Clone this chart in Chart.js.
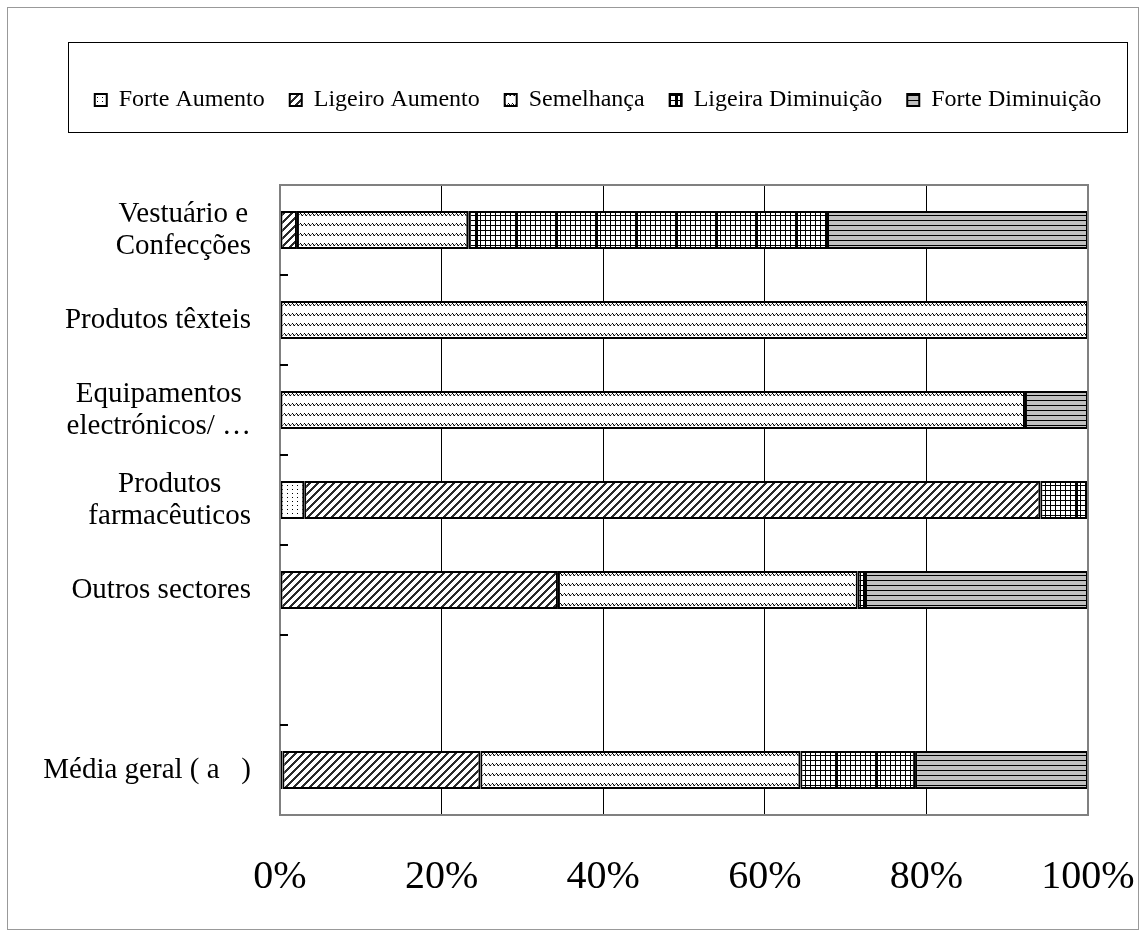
<!DOCTYPE html>
<html><head><meta charset="utf-8">
<script src="https://cdn.jsdelivr.net/npm/chart.js@4.4.1/dist/chart.umd.min.js"></script>
<style>html,body{margin:0;padding:0;background:#fff;} canvas{display:block;}</style>
</head><body>
<canvas id="c" width="1146" height="937"></canvas>
<script>
// ---- data ----
const categories = [["Vestuário e","Confecções"], "Produtos têxteis", ["Equipamentos","electrónicos/ …"], ["Produtos","farmacêuticos"], "Outros sectores", "", "Média geral ( a   )"];
const seriesNames = ["Forte Aumento","Ligeiro Aumento","Semelhança","Ligeira Diminuição","Forte Diminuição"];
const forteAumento      = [0,    0,   0,    3.0,  0,    null, 0.3];
const ligeiroAumento    = [2.1,  0,   0,    91.1, 34.4, null, 24.5];
const semelhanca        = [21.2, 100, 92.2, 0,    37.1, null, 39.6];
const ligeiraDiminuicao = [44.4, 0,   0,    5.9,  0.9,  null, 14.2];
const forteDiminuicao   = [32.3, 0,   7.8,  0,    27.6, null, 21.4];
const xTicks = [0, 20, 40, 60, 80, 100];

// ---- patterns ----
function makePattern(w, h, draw) {
  const c = document.createElement('canvas'); c.width = w; c.height = h;
  const g = c.getContext('2d'); draw(g, w, h);
  return g.createPattern(c, 'repeat');
}
const pDots = makePattern(5, 4, g => { g.fillStyle = '#fff'; g.fillRect(0,0,5,4); g.fillStyle = '#000'; g.fillRect(2,1,1,1); });
const pDiag = makePattern(8, 8, g => {
  g.fillStyle = '#fff'; g.fillRect(0,0,8,8); g.fillStyle = '#2a2a2a';
  for (let y = 0; y < 8; y++) for (let k = 0; k < 3; k++) g.fillRect(((7 - y + k) % 8 + 8) % 8, y, 1, 1);
});
const pWave = makePattern(4, 10, g => {
  g.fillStyle = '#fff'; g.fillRect(0,0,4,10);
  g.fillStyle = '#000'; g.fillRect(0,3,1,1); g.fillRect(1,4,1,1); g.fillRect(2,5,1,1);
  g.fillStyle = '#777'; g.fillRect(3,4,1,1); g.fillRect(1,5,1,1);
});
const pGrid = makePattern(40, 5, g => {
  g.fillStyle = '#fff'; g.fillRect(0,0,40,5); g.fillStyle = '#000';
  g.fillRect(0,0,40,1);
  for (let x = 0; x < 40; x += 5) g.fillRect(x,0,1,5);
  g.fillRect(35,0,3,5);
});
const pHoriz = makePattern(4, 5, g => { g.fillStyle = '#c0c0c0'; g.fillRect(0,0,4,5); g.fillStyle = '#000'; g.fillRect(0,0,4,1); });

const seriesData = [forteAumento, ligeiroAumento, semelhanca, ligeiraDiminuicao, forteDiminuicao];
const seriesFills = [pDots, pDiag, pWave, pGrid, pHoriz];

const FONT = "'Liberation Serif', 'Times New Roman', serif";

const framePlugin = {
  id: 'frame',
  beforeInit(chart) {
    const fit = chart.legend.fit;
    chart.legend.fit = function() { fit.call(this); this.height = 122; };
  },
  beforeDraw(chart) {
    const ctx = chart.ctx;
    ctx.save();
    ctx.fillStyle = '#fff'; ctx.fillRect(0, 0, chart.width, chart.height);
    ctx.strokeStyle = '#999'; ctx.lineWidth = 1;
    ctx.strokeRect(7.5, 7.5, 1131, 922);
    ctx.strokeStyle = '#000';
    ctx.strokeRect(68.5, 42.5, 1059, 90);
    ctx.restore();
  },
  afterDatasetsDraw(chart) {
    const ctx = chart.ctx, a = chart.chartArea, ys = chart.scales.y;
    ctx.save();
    ctx.strokeStyle = '#808080'; ctx.lineWidth = 2;
    ctx.strokeRect(a.left, a.top, a.right - a.left, a.bottom - a.top);
    ctx.strokeStyle = '#000'; ctx.lineWidth = 2;
    for (let i = 0; i < categories.length - 1; i++) {
      const y = Math.round((ys.getPixelForValue(i) + ys.getPixelForValue(i + 1)) / 2);
      ctx.beginPath(); ctx.moveTo(a.left, y); ctx.lineTo(a.left + 8, y); ctx.stroke();
    }
    // category labels: block right-aligned, lines centred within block
    ctx.fillStyle = '#000'; ctx.font = "29px " + FONT; ctx.textBaseline = 'middle'; ctx.textAlign = 'center';
    const right = a.left - 29, lh = 32;
    categories.forEach((lab, i) => {
      const lines = Array.isArray(lab) ? lab : [lab];
      const w = Math.max(...lines.map(l => ctx.measureText(l).width));
      const cx = right - w / 2, cy = ys.getPixelForValue(i);
      lines.forEach((l, j) => ctx.fillText(l, cx, cy + (j - (lines.length - 1) / 2) * lh));
    });
    ctx.restore();
  }
};

new Chart(document.getElementById('c'), {
  type: 'bar',
  data: {
    labels: categories,
    datasets: seriesNames.map((name, i) => ({
      label: name, data: seriesData[i], backgroundColor: seriesFills[i],
      borderColor: '#000', borderWidth: 2, borderSkipped: false,
      categoryPercentage: 1, barPercentage: 0.42
    }))
  },
  options: {
    indexAxis: 'y', responsive: false, animation: false, devicePixelRatio: 1,
    layout: { padding: { top: 63, left: 68, right: 18, bottom: 36 } },
    plugins: {
      legend: { position: 'top', labels: { font: { family: FONT, size: 24 }, color: '#000', boxWidth: 12, boxHeight: 12, padding: 25 } },
      tooltip: { enabled: false }
    },
    scales: {
      x: {
        stacked: true, min: 0, max: 100,
        afterBuildTicks: s => { s.ticks = xTicks.map(v => ({ value: v })); },
        ticks: { callback: v => v + '%', font: { family: FONT, size: 40 }, color: '#000', padding: 38, maxRotation: 0 },
        grid: { color: c => (c.tick && (c.tick.value === 0 || c.tick.value === 100)) ? 'rgba(0,0,0,0)' : '#000', drawTicks: false, lineWidth: 1 },
        border: { display: false },
        afterFit: s => { s.height = 86; s.paddingRight = 0; s.paddingLeft = 0; }
      },
      y: {
        stacked: true,
        ticks: { display: false },
        grid: { display: false }, border: { display: false },
        afterFit: s => { s.width = 212; }
      },
      y2: {
        type: 'category', axis: 'y', position: 'right', labels: categories,
        ticks: { display: false }, grid: { display: false }, border: { display: false },
        afterFit: s => { s.width = 40; }
      }
    }
  },
  plugins: [framePlugin]
});
</script>
</body></html>
